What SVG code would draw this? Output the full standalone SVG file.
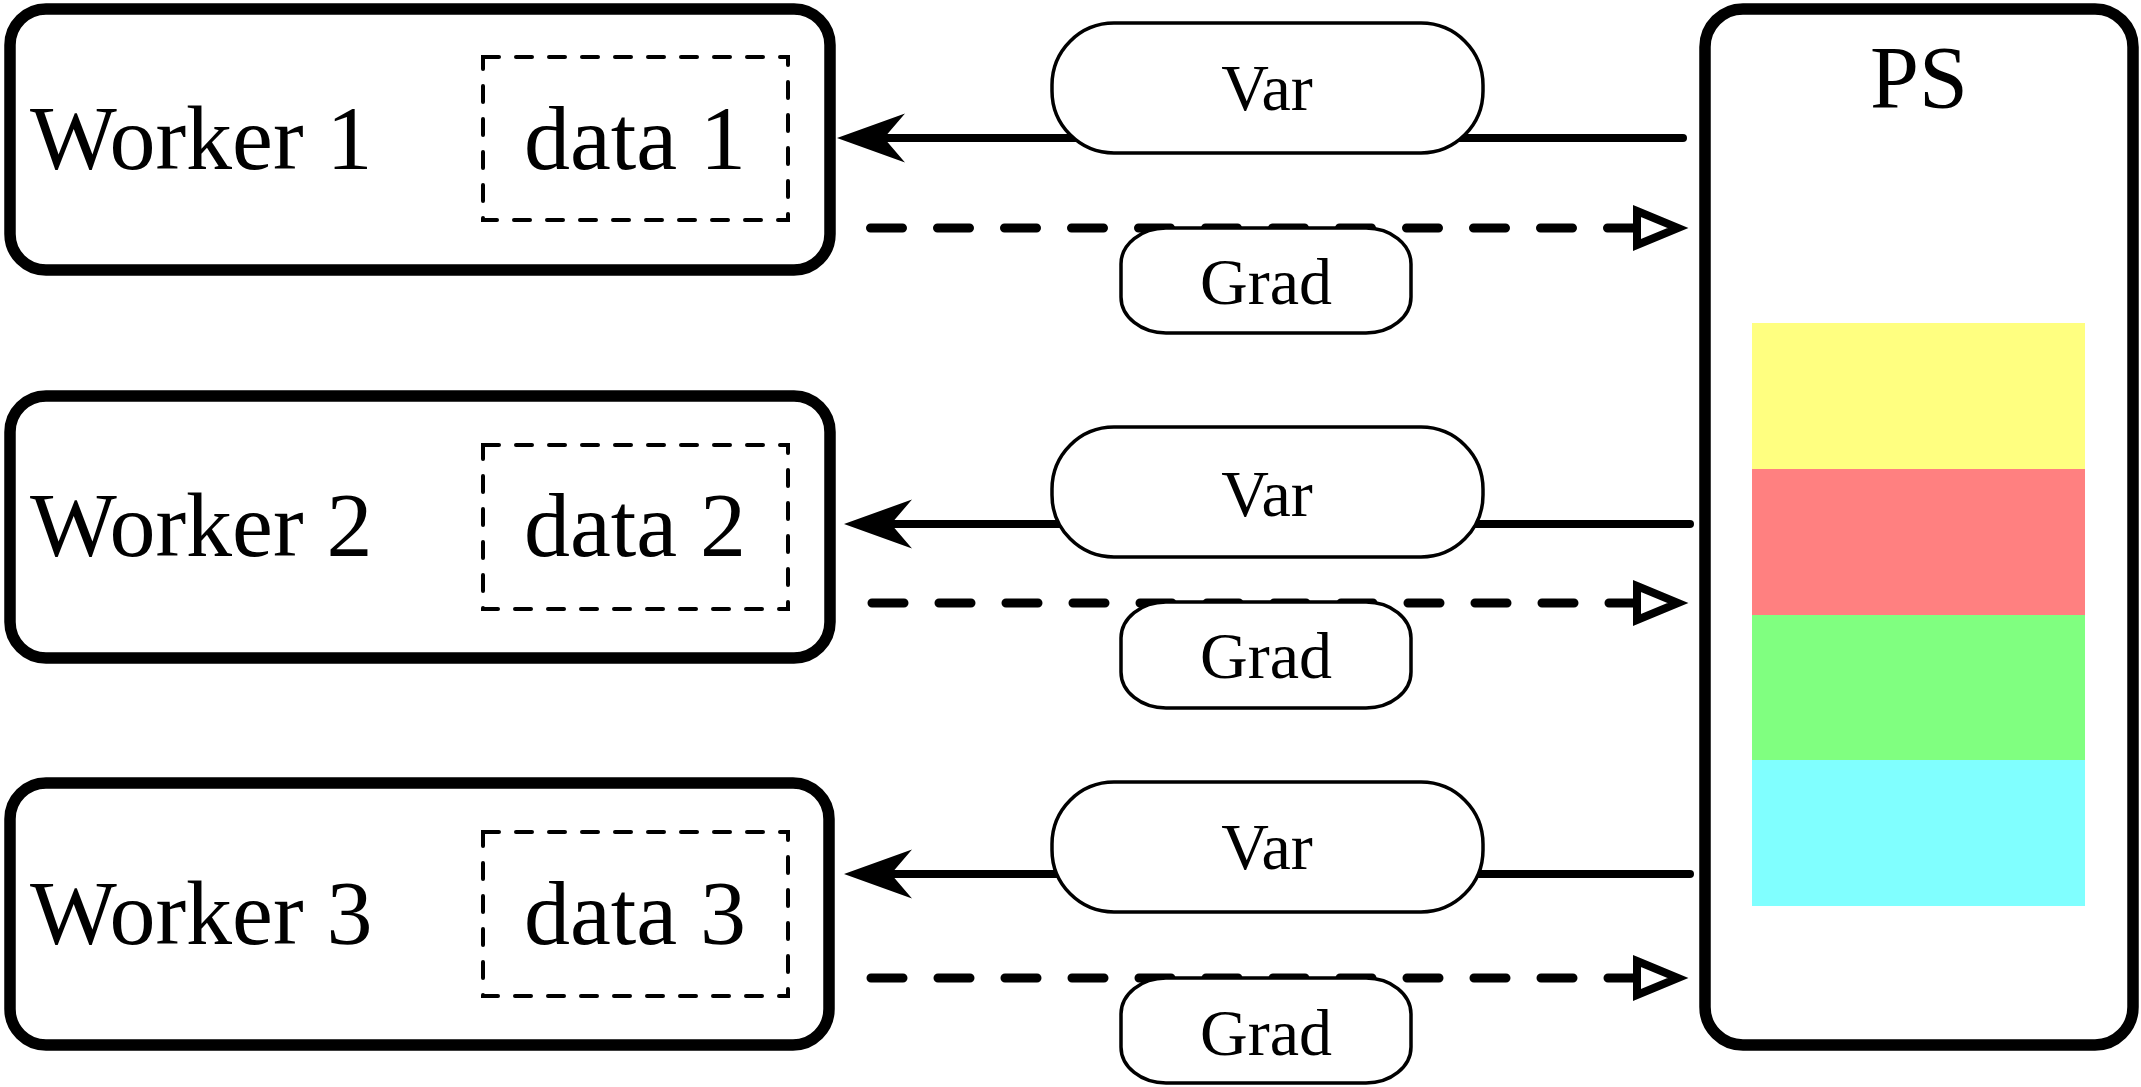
<svg xmlns="http://www.w3.org/2000/svg" width="2141" height="1087" viewBox="0 0 2141 1087">
<style>
.box{fill:#fff;stroke:#000;stroke-width:11.5}
.data{fill:none;stroke:#000;stroke-width:4;stroke-dasharray:16 17;stroke-linecap:round}
.big{font-family:"Liberation Serif","Times New Roman",serif;font-size:92px;fill:#000}
.ps{font-family:"Liberation Serif","Times New Roman",serif;font-size:88px;fill:#000;text-anchor:middle}
.lbl{font-family:"Liberation Serif","Times New Roman",serif;font-size:66px;fill:#000;text-anchor:middle}
.pill{fill:#fff;stroke:#000;stroke-width:3.5}
.var{fill:none;stroke:#000;stroke-width:8;stroke-linecap:round}
.grad{fill:none;stroke:#000;stroke-width:9;stroke-linecap:round;stroke-dasharray:32 35}
</style>
<defs>
<marker id="solid" markerUnits="userSpaceOnUse" markerWidth="100" markerHeight="100" refX="0" refY="0" viewBox="-30 -50 100 100" orient="auto" overflow="visible">
<path d="M47,0 L-21,-24.5 L0,0 L-21,24.5 Z" fill="#000" stroke="none"/>
</marker>
<marker id="open" markerUnits="userSpaceOnUse" markerWidth="100" markerHeight="100" refX="0" refY="0" viewBox="-30 -50 100 100" orient="auto" overflow="visible">
<path d="M0,-17 L41,0 L0,17 Z" fill="#fff" stroke="#000" stroke-width="8" stroke-linejoin="miter"/>
</marker>
</defs>
<rect width="2141" height="1087" fill="#fff"/>

<g id="ps">
<rect class="box" x="1705" y="9" width="428" height="1036" rx="38" ry="38" stroke-width="12"/>
<text class="ps" x="1919" y="107">PS</text>
<rect x="1752" y="323" width="333" height="146" fill="#FFFF80"/>
<rect x="1752" y="469" width="333" height="146" fill="#FF8080"/>
<rect x="1752" y="615" width="333" height="145" fill="#80FF80"/>
<rect x="1752" y="760" width="333" height="146" fill="#80FFFF"/>
</g>

<g id="worker1">
<rect class="box" x="10" y="9" width="820" height="261" rx="36" ry="36"/>
<text class="big" x="30" y="169">Worker 1</text>
<rect class="data" x="483" y="57" width="305" height="163"/>
<text class="big" x="635" y="169" text-anchor="middle">data 1</text>
</g>

<g id="worker2">
<rect class="box" x="10" y="396" width="820" height="262" rx="36" ry="36"/>
<text class="big" x="30" y="556">Worker 2</text>
<rect class="data" x="483" y="445" width="305" height="164"/>
<text class="big" x="635" y="556" text-anchor="middle">data 2</text>
</g>

<g id="worker3">
<rect class="box" x="10" y="783" width="819" height="262" rx="36" ry="36"/>
<text class="big" x="30" y="944">Worker 3</text>
<rect class="data" x="483" y="832" width="305" height="164"/>
<text class="big" x="635" y="944" text-anchor="middle">data 3</text>
</g>

<g id="connectors">
<line class="var" x1="1683" y1="138" x2="884" y2="138" marker-end="url(#solid)"/>
<line class="grad" x1="870.5" y1="228" x2="1637" y2="228" marker-end="url(#open)"/>
<line class="var" x1="1690" y1="524" x2="891" y2="524" marker-end="url(#solid)"/>
<line class="grad" x1="872" y1="603" x2="1637" y2="603" marker-end="url(#open)"/>
<line class="var" x1="1690" y1="874" x2="891" y2="874" marker-end="url(#solid)"/>
<line class="grad" x1="871" y1="978" x2="1637" y2="978" marker-end="url(#open)"/>
</g>

<g id="var1">
<rect class="pill" x="1052" y="23" width="431" height="130" rx="62" ry="62"/>
<text class="lbl" x="1267" y="110">Var</text>
</g>
<g id="grad1">
<rect class="pill" x="1121" y="228" width="290" height="105" rx="45" ry="36"/>
<text class="lbl" x="1266" y="304">Grad</text>
</g>
<g id="var2">
<rect class="pill" x="1052" y="427" width="431" height="130" rx="62" ry="62"/>
<text class="lbl" x="1267" y="516">Var</text>
</g>
<g id="grad2">
<rect class="pill" x="1121" y="602" width="290" height="106" rx="45" ry="36"/>
<text class="lbl" x="1266" y="678">Grad</text>
</g>
<g id="var3">
<rect class="pill" x="1052" y="782" width="431" height="130" rx="62" ry="62"/>
<text class="lbl" x="1267" y="869">Var</text>
</g>
<g id="grad3">
<rect class="pill" x="1121" y="978" width="290" height="105" rx="45" ry="36"/>
<text class="lbl" x="1266" y="1055">Grad</text>
</g>
</svg>
